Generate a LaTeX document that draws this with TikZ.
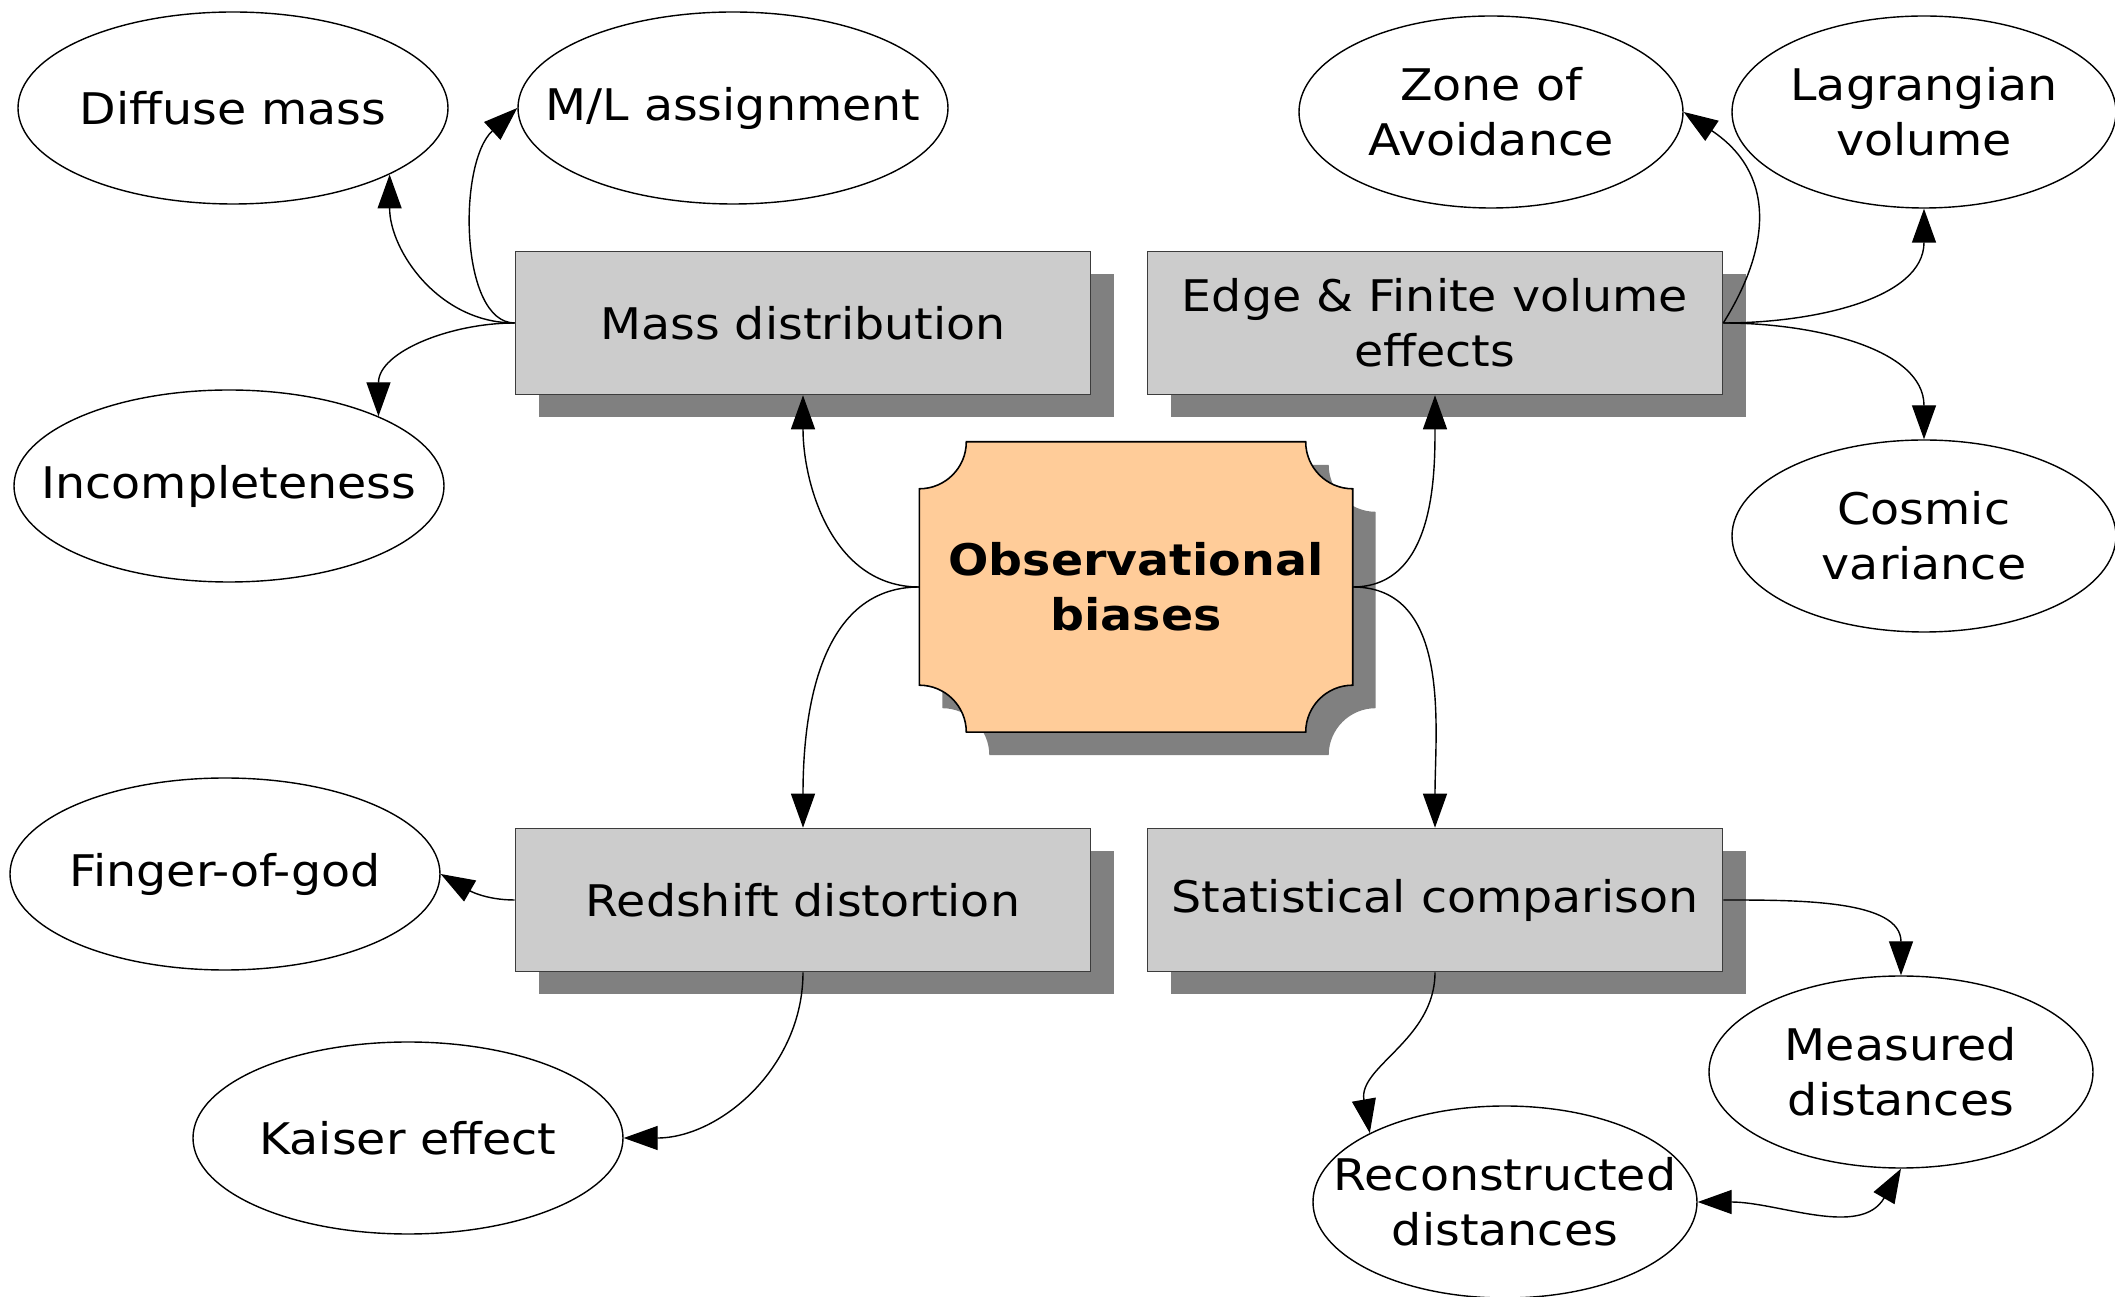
\documentclass[tikz,border=0pt]{standalone}
\usepackage{fontspec}
\setmainfont{DejaVu Sans}[FakeStretch=1.09]
\usepackage{tikz}
\usetikzlibrary{positioning,arrows.meta,shapes.geometric,shadows,backgrounds,calc}
\definecolor{boxgray}{RGB}{204,204,204}
\definecolor{shadowgray}{RGB}{128,128,128}
\definecolor{plaquepeach}{RGB}{255,204,153}
\definecolor{edgegray}{RGB}{60,60,60}
\tikzset{
  topic-box/.style={draw=edgegray, line width=0.45pt, fill=boxgray,
    minimum width=5.75cm, minimum height=1.43cm, align=center, inner sep=2pt,
    drop shadow={shadow xshift=0.23cm, shadow yshift=-0.23cm, fill=shadowgray, opacity=1}},
  leaf-node/.style={ellipse, draw, line width=0.4pt, minimum width=4.3cm,
    minimum height=1.92cm, align=center, inner sep=0pt, inner xsep=-0.5cm},
  narrow-leaf/.style={leaf-node, minimum width=3.84cm},
  hub-node/.style={minimum width=4.32cm, minimum height=2.89cm, align=center,
    font=\fontsize{12.4}{15.6}\selectfont\bfseries, inner sep=0pt},
  plaque-face/.style={draw, line width=0.45pt, fill=plaquepeach},
  plaque-shadow/.style={fill=shadowgray},
  link-arrow/.style={-{Triangle[length=3.4mm, width=2.4mm]}, line width=0.4pt},
  twin-arrow/.style={{Triangle[length=3.4mm, width=2.4mm]}-{Triangle[length=3.4mm, width=2.4mm]}, line width=0.4pt}
}

\begin{document}
\begin{tikzpicture}[font=\fontsize{12.4}{15.6}\selectfont]
\useasboundingbox (0,0) rectangle (21.15,-12.97);

% Central node
\node[hub-node] (obs) at (11.36,-5.87) {Observational\\biases};

% Plaque behind the central node
\begin{scope}[on background layer]
\foreach \dx/\dy/\sty in {0.23/-0.23/plaque-shadow, 0/0/plaque-face}{
  \path[\sty] ([shift={(\dx+0.47,\dy)}]obs.north west)
    -- ([shift={(\dx-0.47,\dy)}]obs.north east) arc[start angle=180, end angle=270, radius=0.47]
    -- ([shift={(\dx,\dy+0.47)}]obs.south east) arc[start angle=90, end angle=180, radius=0.47]
    -- ([shift={(\dx+0.47,\dy)}]obs.south west) arc[start angle=0, end angle=90, radius=0.47]
    -- ([shift={(\dx,\dy-0.47)}]obs.north west) arc[start angle=270, end angle=360, radius=0.47]
    -- cycle;
}
\end{scope}

% Topic boxes
\node[topic-box] (mass) at (8.03,-3.23) {Mass distribution};
\node[topic-box] (edge) at (14.35,-3.23) {Edge \& Finite volume\\effects};
\node[topic-box] (redshift) at (8.03,-9.00) {Redshift distortion};
\node[topic-box] (stat) at (14.35,-9.00) {Statistical comparison};

% Leaves
\node[leaf-node] (diffuse) at (2.33,-1.08) {Diffuse mass};
\node[leaf-node] (ml) at (7.33,-1.08) {M/L assignment};
\node[leaf-node] (incomp) at (2.29,-4.86) {Incompleteness};
\node[narrow-leaf] (zone) at (14.91,-1.12) {Zone of\\Avoidance};
\node[narrow-leaf] (lagr) at (19.24,-1.12) {Lagrangian\\volume};
\node[narrow-leaf] (cosmic) at (19.24,-5.36) {Cosmic\\variance};
\node[leaf-node] (finger) at (2.25,-8.74) {Finger-of-god};
\node[leaf-node] (kaiser) at (4.08,-11.38) {Kaiser effect};
\node[narrow-leaf] (measured) at (19.01,-10.72) {Measured\\distances};
\node[narrow-leaf] (recon) at (15.05,-12.02) {Reconstructed\\distances};

% Hub to topics
\draw[link-arrow] (obs.west) to[out=180, in=-90] (mass.south);
\draw[link-arrow] (obs.west) to[out=180, in=90] (redshift.north);
\draw[link-arrow] (obs.east) to[out=0, in=-90] (edge.south);
\draw[link-arrow] (obs.east) to[out=0, in=90] (stat.north);

% Topics to leaves
\draw[link-arrow] (mass.west) to[out=180, in=-90] (diffuse.-23);
\draw[link-arrow] (mass.west) .. controls +(-0.55,0) and +(-0.6,-0.55) .. (ml.west);
\draw[link-arrow] (mass.west) to[out=180, in=90] (incomp.25);
\draw[link-arrow] (edge.east) .. controls +(0.5,0.8) and +(0.9,-0.6) .. (zone.east);
\draw[link-arrow] (edge.east) to[out=0, in=-90] (lagr.south);
\draw[link-arrow] (edge.east) to[out=0, in=90] (cosmic.north);
\draw[link-arrow] (redshift.west) to[out=180, in=-30] (finger.east);
\draw[link-arrow] (redshift.south) to[out=-90, in=0] (kaiser.east);
\draw[link-arrow] (stat.east) to[out=0, in=90] (measured.north);
\draw[link-arrow] (stat.south) to[out=-90, in=100] (recon.153);
\draw[twin-arrow] (recon.east) to[out=0, in=-120] (measured.south);
\end{tikzpicture}
\end{document}
